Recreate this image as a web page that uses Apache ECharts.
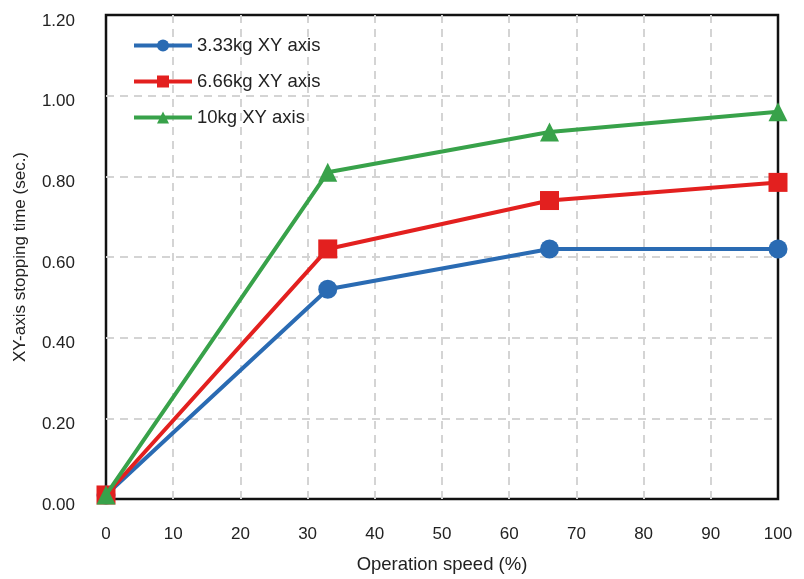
<!DOCTYPE html>
<html><head><meta charset="utf-8">
<script src="https://cdn.jsdelivr.net/npm/echarts@6/dist/echarts.min.js"></script>
<style>html,body{margin:0;padding:0;background:#fff}#c{width:804px;height:579px}</style>
</head><body><div id="c"></div>
<script>
var speeds = [0, 33, 66, 100];
var names = ['3.33kg XY axis', '6.66kg XY axis', '10kg XY axis'];
var s333 = [0.01, 0.52, 0.62, 0.62];
var s666 = [0.01, 0.62, 0.74, 0.785];
var s10 = [0.01, 0.81, 0.91, 0.96];
var xTicks = [0, 10, 20, 30, 40, 50, 60, 70, 80, 90, 100];
var yTicks = [0, 0.2, 0.4, 0.6, 0.8, 1.0, 1.2];
var colors = ['#2a6bb3', '#e3201f', '#38a24a'];
var symbols = ['circle', 'rect', 'triangle'];
var allData = [s333, s666, s10];

function pairs(v){ return speeds.map(function(x,i){return [x, v[i]];}); }
var font = 'Liberation Sans, Arial, Helvetica, sans-serif';
var chart = echarts.init(document.getElementById('c'), null, {renderer:'canvas'});
var grid = {color:'#d4d4d4', width:2, type:[8,6]};
chart.setOption({
  animation:false,
  textStyle:{fontFamily:font},
  grid:{left:106, right:26, top:15, bottom:79, show:true, borderColor:'#111', borderWidth:2.5, backgroundColor:'transparent'},
  legend:{orient:'vertical', left:132, top:36, padding:0, itemWidth:58, itemHeight:15, itemGap:17,
    lineStyle:{width:4},
    textStyle:{fontSize:18.5, color:'#222', fontFamily:font}, data:names},
  xAxis:{type:'value', min:xTicks[0], max:xTicks[xTicks.length-1], interval:10,
    name:'Operation speed (%)', nameLocation:'middle', nameGap:56,
    nameTextStyle:{fontSize:18.5, color:'#222', fontFamily:font},
    axisLine:{show:false}, axisTick:{show:false},
    axisLabel:{fontSize:17, color:'#222', margin:27, fontFamily:font},
    splitLine:{show:true, showMinLine:false, showMaxLine:false, lineStyle:grid}},
  yAxis:{type:'value', min:yTicks[0], max:yTicks[yTicks.length-1], interval:0.2,
    name:'XY-axis stopping time (sec.)', nameLocation:'middle', nameGap:77,
    nameTextStyle:{fontSize:17, color:'#222', fontFamily:font},
    axisLine:{show:false}, axisTick:{show:false},
    axisLabel:{fontSize:17, color:'#222', margin:31, fontFamily:font,
      formatter:function(v){return '{a|' + v.toFixed(2) + '}';},
      rich:{a:{fontSize:17, color:'#222', fontFamily:font, padding:[12,0,0,0]}}},
    splitLine:{show:true, showMinLine:false, showMaxLine:false, lineStyle:grid}},
  series: names.map(function(n,i){
    return {name:n, type:'line', data:pairs(allData[i]), symbol:symbols[i], symbolSize:19,
      showAllSymbol:true, clip:false,
      lineStyle:{color:colors[i], width:4}, itemStyle:{color:colors[i]}, z:10+i};
  })
});
</script></body></html>
